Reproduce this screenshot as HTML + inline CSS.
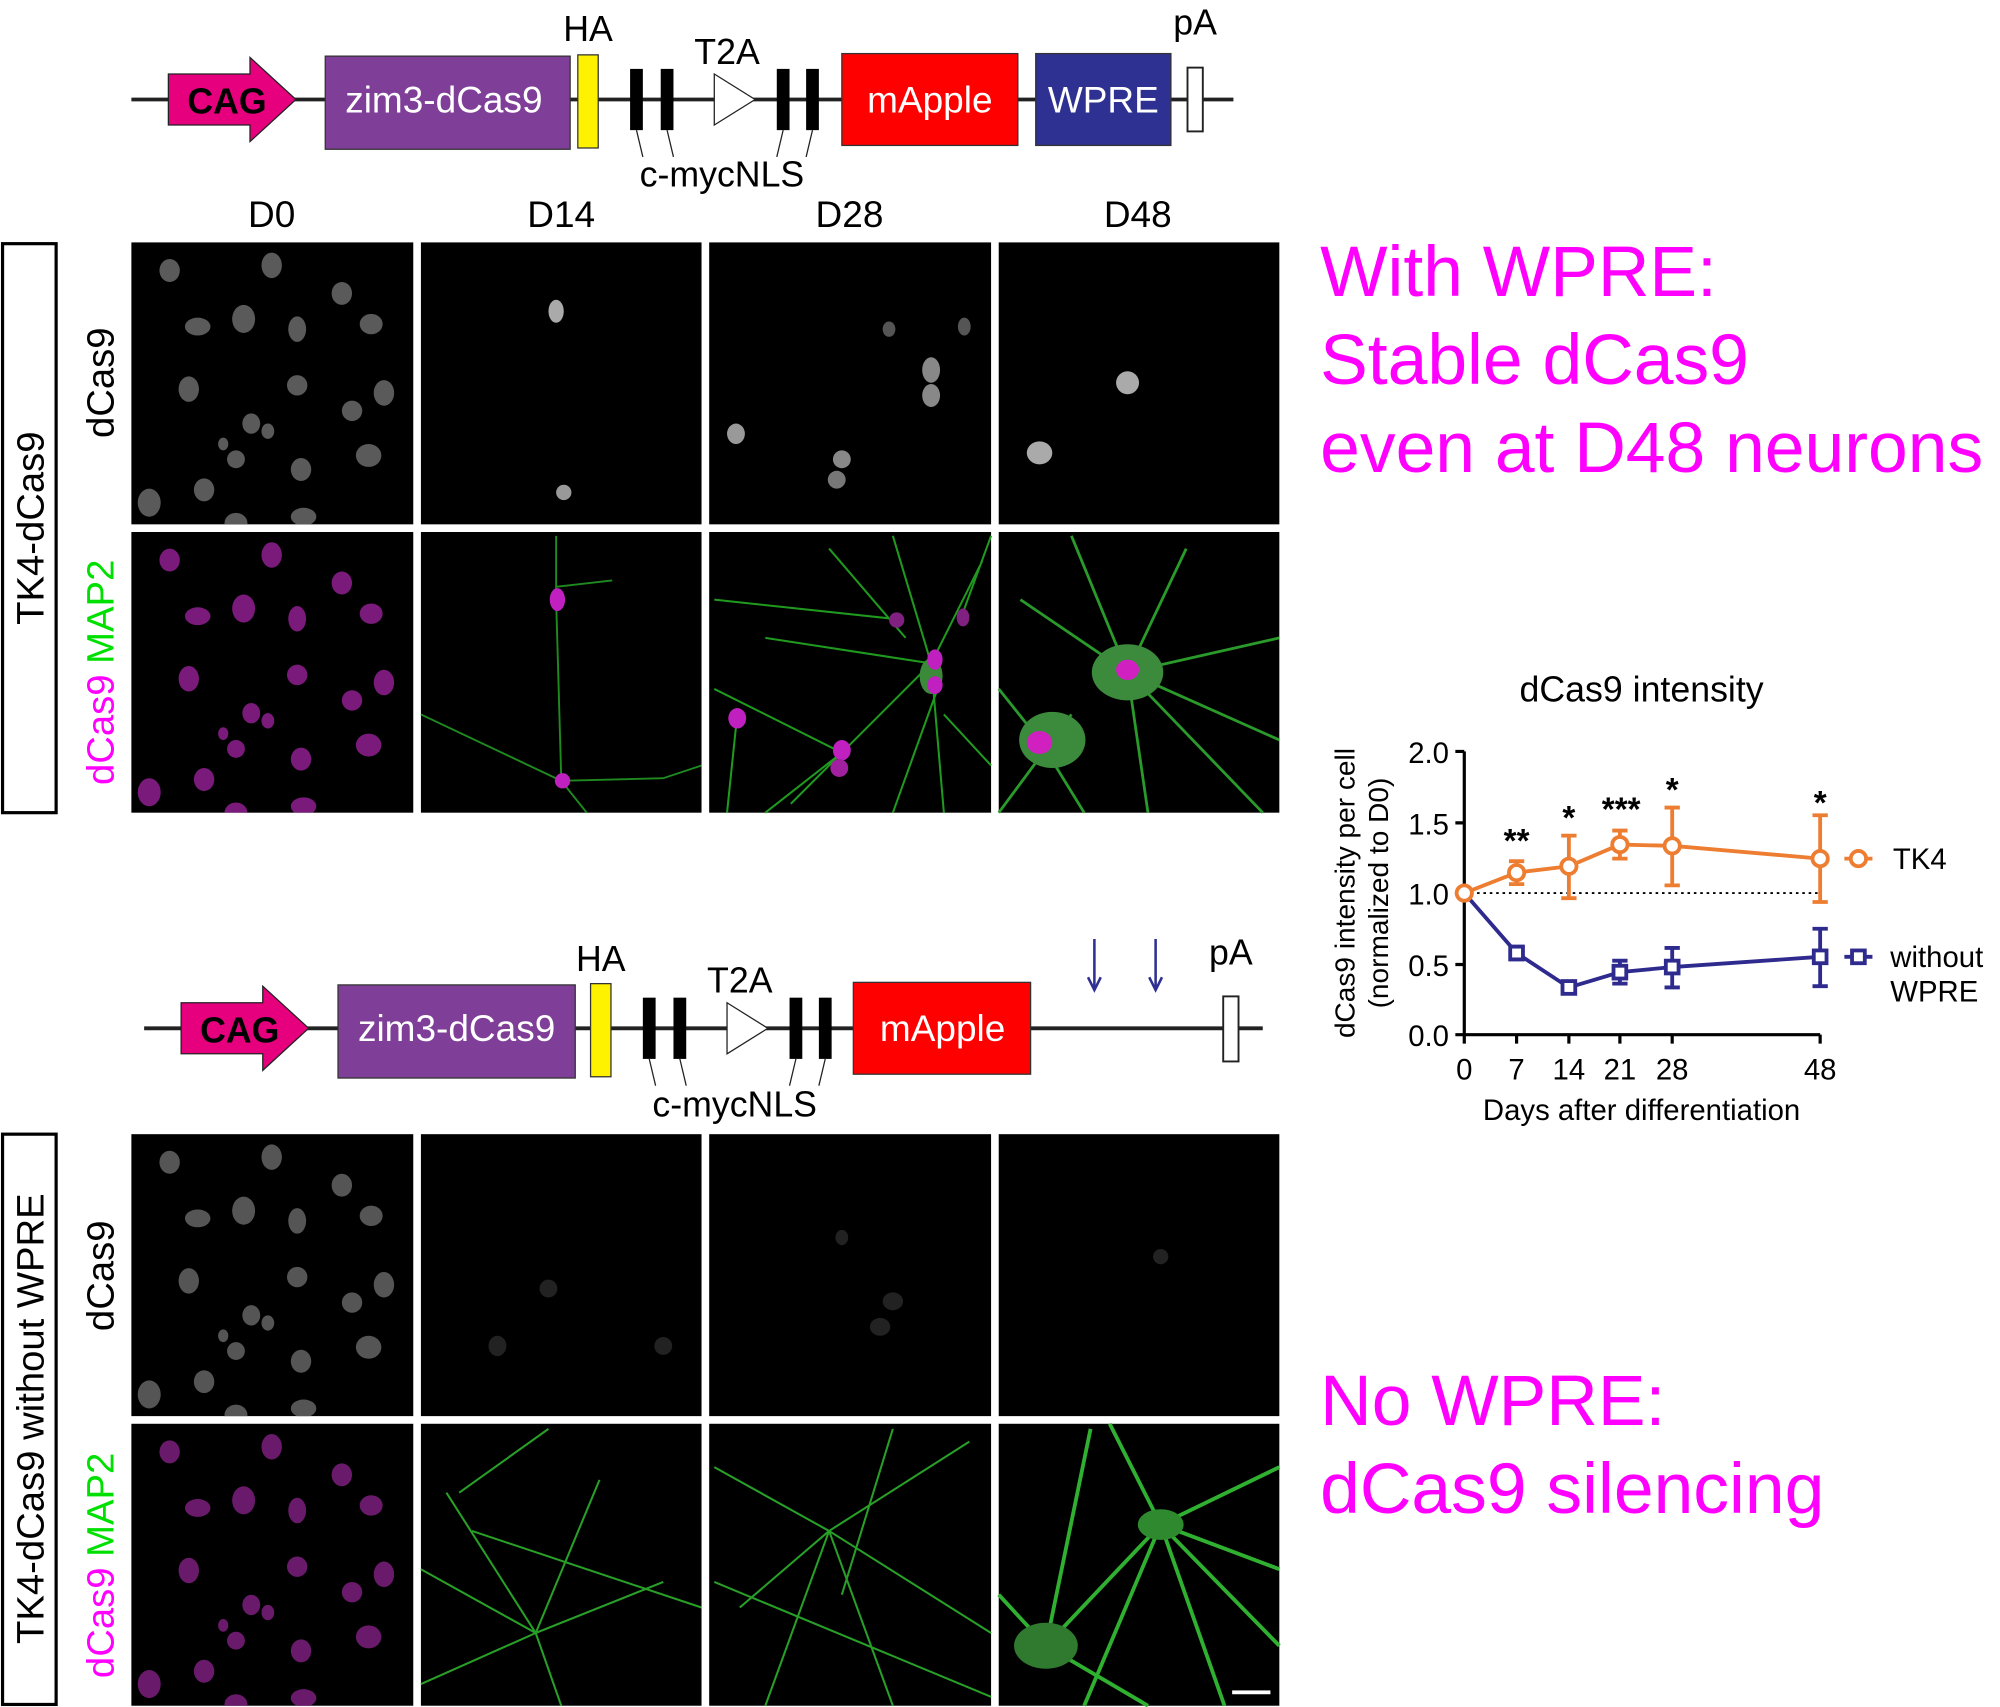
<!DOCTYPE html>
<html><head><meta charset="utf-8"><style>
html,body{margin:0;padding:0;background:#fff}
svg{display:block}
text{font-family:"Liberation Sans",Arial,sans-serif}
</style></head><body>
<svg width="2000" height="1707" viewBox="0 0 1568 1338" preserveAspectRatio="none" xmlns="http://www.w3.org/2000/svg">
<defs>
<g id="nucG">
<ellipse cx="30" cy="22" rx="8" ry="9"/><ellipse cx="110" cy="18" rx="8" ry="10"/><ellipse cx="165" cy="40" rx="8" ry="9"/>
<ellipse cx="52" cy="66" rx="10" ry="7"/><ellipse cx="88" cy="60" rx="9" ry="11"/><ellipse cx="130" cy="68" rx="7" ry="10"/><ellipse cx="188" cy="64" rx="9" ry="8"/>
<ellipse cx="45" cy="115" rx="8" ry="10"/><ellipse cx="130" cy="112" rx="8" ry="8"/><ellipse cx="198" cy="118" rx="8" ry="10"/><ellipse cx="173" cy="132" rx="8" ry="8"/>
<ellipse cx="94" cy="142" rx="7" ry="8"/><ellipse cx="107" cy="148" rx="5" ry="6"/><ellipse cx="82" cy="170" rx="7" ry="7"/><ellipse cx="72" cy="158" rx="4" ry="5"/>
<ellipse cx="186" cy="167" rx="10" ry="9"/><ellipse cx="133" cy="178" rx="8" ry="9"/><ellipse cx="57" cy="194" rx="8" ry="9"/>
<ellipse cx="14" cy="204" rx="9" ry="11"/><ellipse cx="135" cy="215" rx="10" ry="7"/><ellipse cx="82" cy="220" rx="9" ry="8"/>
</g>
<clipPath id="c1"><rect x="103" y="190" width="221" height="221"/></clipPath>
<clipPath id="c2"><rect x="103" y="417" width="221" height="220"/></clipPath>
<clipPath id="c3"><rect x="103" y="889" width="221" height="221"/></clipPath>
<clipPath id="c4"><rect x="103" y="1116" width="221" height="221"/></clipPath>
</defs>
<rect width="1568" height="1338" fill="#fff"/>

<line x1="103" y1="78" x2="967" y2="78" stroke="#222" stroke-width="3"/>
<polygon points="132,58 196,58 196,45 232,78 196,111 196,98 132,98" fill="#e6007e" stroke="#222" stroke-width="1"/>
<text x="178" y="89" font-size="28" font-weight="bold" text-anchor="middle" fill="#000">CAG</text>
<rect x="255" y="44" width="192" height="73" fill="#7f3f98" stroke="#333"/>
<text x="348" y="88" font-size="29" fill="#fff" text-anchor="middle">zim3-dCas9</text>
<rect x="453" y="43" width="16" height="73" fill="#fff200" stroke="#333"/>
<rect x="494" y="54" width="10" height="48" fill="#000"/><rect x="518" y="54" width="10" height="48" fill="#000"/>
<polygon points="560,58 592,78 560,98" fill="#fff" stroke="#222"/>
<rect x="609" y="54" width="10" height="48" fill="#000"/><rect x="632" y="54" width="10" height="48" fill="#000"/>
<rect x="660" y="42" width="138" height="72" fill="#ff0000" stroke="#333"/>
<text x="729" y="88" font-size="29" fill="#fff" text-anchor="middle">mApple</text>
<rect x="812" y="42" width="106" height="72" fill="#2e3192" stroke="#333"/>
<text x="865" y="88" font-size="29" fill="#fff" text-anchor="middle">WPRE</text>
<rect x="931" y="53" width="12" height="50" fill="#fff" stroke="#222" stroke-width="1.5"/>
<text x="461" y="32" font-size="28" text-anchor="middle">HA</text>
<text x="570" y="50" font-size="28" text-anchor="middle">T2A</text>
<text x="937" y="27" font-size="28" text-anchor="middle">pA</text>
<text x="566" y="146" font-size="28" text-anchor="middle">c-mycNLS</text>
<path d="M499,102 L504,123 M523,102 L528,123 M614,102 L609,123 M637,102 L632,123" stroke="#222" stroke-width="1"/>

<text x="213" y="178" font-size="29" text-anchor="middle">D0</text>
<text x="440" y="178" font-size="29" text-anchor="middle">D14</text>
<text x="666" y="178" font-size="29" text-anchor="middle">D28</text>
<text x="892" y="178" font-size="29" text-anchor="middle">D48</text>

<line x1="113" y1="806" x2="990" y2="806" stroke="#222" stroke-width="3"/>
<polygon points="142,786 206,786 206,773 242,806 206,839 206,826 142,826" fill="#e6007e" stroke="#222" stroke-width="1"/>
<text x="188" y="817" font-size="28" font-weight="bold" text-anchor="middle">CAG</text>
<rect x="265" y="772" width="186" height="73" fill="#7f3f98" stroke="#333"/>
<text x="358" y="816" font-size="29" fill="#fff" text-anchor="middle">zim3-dCas9</text>
<rect x="463" y="771" width="16" height="73" fill="#fff200" stroke="#333"/>
<rect x="504" y="782" width="10" height="48" fill="#000"/><rect x="528" y="782" width="10" height="48" fill="#000"/>
<polygon points="570,786 602,806 570,826" fill="#fff" stroke="#222"/>
<rect x="619" y="782" width="10" height="48" fill="#000"/><rect x="642" y="782" width="10" height="48" fill="#000"/>
<rect x="669" y="770" width="139" height="72" fill="#ff0000" stroke="#333"/>
<text x="739" y="816" font-size="29" fill="#fff" text-anchor="middle">mApple</text>
<rect x="959" y="781" width="12" height="51" fill="#fff" stroke="#222" stroke-width="1.5"/>
<text x="471" y="761" font-size="28" text-anchor="middle">HA</text>
<text x="580" y="778" font-size="28" text-anchor="middle">T2A</text>
<text x="965" y="756" font-size="28" text-anchor="middle">pA</text>
<text x="576" y="875" font-size="28" text-anchor="middle">c-mycNLS</text>
<path d="M509,830 L514,851 M533,830 L538,851 M624,830 L619,851 M647,830 L642,851" stroke="#222" stroke-width="1"/>
<path d="M858,736 V774 M906,736 V774" stroke="#2e3192" stroke-width="2"/>
<path d="M853,766 L858,776 L863,766 M901,766 L906,776 L911,766" fill="none" stroke="#2e3192" stroke-width="2"/>

<rect x="2" y="191" width="42" height="446" fill="#fff" stroke="#000" stroke-width="2.5"/>
<text transform="translate(34,414) rotate(-90)" font-size="30" text-anchor="middle">TK4-dCas9</text>
<rect x="2" y="889" width="42" height="447" fill="#fff" stroke="#000" stroke-width="2.5"/>
<text transform="translate(34,1112) rotate(-90)" font-size="30" text-anchor="middle">TK4-dCas9 without WPRE</text>
<text transform="translate(89,300) rotate(-90)" font-size="30" text-anchor="middle">dCas9</text>
<text transform="translate(89,527) rotate(-90)" font-size="30" text-anchor="middle"><tspan fill="#ff00ff">dCas9</tspan> <tspan fill="#00e000">MAP2</tspan></text>
<text transform="translate(89,1000) rotate(-90)" font-size="30" text-anchor="middle">dCas9</text>
<text transform="translate(89,1227) rotate(-90)" font-size="30" text-anchor="middle"><tspan fill="#ff00ff">dCas9</tspan> <tspan fill="#00e000">MAP2</tspan></text>

<g fill="#000">
<rect x="103" y="190" width="221" height="221"/><rect x="330" y="190" width="220" height="221"/><rect x="556" y="190" width="221" height="221"/><rect x="783" y="190" width="220" height="221"/>
<rect x="103" y="417" width="221" height="220"/><rect x="330" y="417" width="220" height="220"/><rect x="556" y="417" width="221" height="220"/><rect x="783" y="417" width="220" height="220"/>
<rect x="103" y="889" width="221" height="221"/><rect x="330" y="889" width="220" height="221"/><rect x="556" y="889" width="221" height="221"/><rect x="783" y="889" width="220" height="221"/>
<rect x="103" y="1116" width="221" height="221"/><rect x="330" y="1116" width="220" height="221"/><rect x="556" y="1116" width="221" height="221"/><rect x="783" y="1116" width="220" height="221"/>
</g>
<g clip-path="url(#c1)"><use href="#nucG" x="103" y="190" fill="#5a5a5a"/></g>
<g clip-path="url(#c2)"><use href="#nucG" x="103" y="417" fill="#7a1a7a"/></g>
<g clip-path="url(#c3)"><use href="#nucG" x="103" y="889" fill="#555"/></g>
<g clip-path="url(#c4)"><use href="#nucG" x="103" y="1116" fill="#6a1a6a"/></g>

<ellipse cx="436" cy="244" rx="6" ry="9" fill="#aaa"/><ellipse cx="442" cy="386" rx="6" ry="6" fill="#999"/>
<g stroke="#1f8a1f" stroke-width="1.5" fill="none">
<path d="M436,420 L436,470 L440,610 M436,460 L480,455 M330,560 L440,612 L520,610 L550,600 M440,612 L460,637"/>
</g>
<ellipse cx="437" cy="470" rx="6" ry="9" fill="#c020c0"/><ellipse cx="441" cy="612" rx="6" ry="6" fill="#c020c0"/>
<ellipse cx="730" cy="290" rx="7" ry="10" fill="#888"/><ellipse cx="730" cy="310" rx="7" ry="9" fill="#888"/><ellipse cx="577" cy="340" rx="7" ry="8" fill="#999"/><ellipse cx="660" cy="360" rx="7" ry="7" fill="#888"/><ellipse cx="656" cy="376" rx="7" ry="7" fill="#777"/><ellipse cx="697" cy="258" rx="5" ry="6" fill="#555"/><ellipse cx="756" cy="256" rx="5" ry="7" fill="#555"/>
<g stroke="#1f9a1f" stroke-width="1.6" fill="none">
<path d="M730,520 L700,420 M730,520 L770,440 M730,520 L740,637 M730,520 L620,630 M730,520 L600,500 M700,485 L560,470 M660,590 L600,637 M660,590 L560,540 M578,560 L570,637 M740,560 L777,600 M710,500 L650,430 M735,540 L700,637 M755,480 L777,420"/>
</g>
<ellipse cx="730" cy="530" rx="9" ry="14" fill="#3a8a3a"/><ellipse cx="733" cy="517" rx="6" ry="8" fill="#c020c0"/><ellipse cx="733" cy="537" rx="6" ry="7" fill="#c020c0"/>
<ellipse cx="578" cy="563" rx="7" ry="8" fill="#c020c0"/><ellipse cx="660" cy="588" rx="7" ry="8" fill="#c020c0"/><ellipse cx="658" cy="602" rx="7" ry="7" fill="#a020a0"/><ellipse cx="703" cy="486" rx="6" ry="6" fill="#802080"/><ellipse cx="755" cy="484" rx="5" ry="7" fill="#802080"/>
<ellipse cx="884" cy="300" rx="9" ry="9" fill="#aaa"/><ellipse cx="815" cy="355" rx="10" ry="9" fill="#aaa"/>
<g stroke="#2a9a2a" stroke-width="2.2" fill="none">
<path d="M884,527 L840,420 M884,527 L930,430 M884,527 L1003,500 M884,527 L990,637 M884,527 L900,637 M884,527 L800,470 M815,580 L783,540 M815,580 L850,637 M884,527 L1003,580 M840,560 L783,637"/>
</g>
<ellipse cx="884" cy="527" rx="28" ry="22" fill="#3c8a3c"/><ellipse cx="825" cy="580" rx="26" ry="22" fill="#3c8a3c"/>
<ellipse cx="884" cy="525" rx="9" ry="8" fill="#d020c0"/><ellipse cx="815" cy="582" rx="10" ry="9" fill="#d020c0"/>
<g fill="#222"><ellipse cx="390" cy="1055" rx="7" ry="8"/><ellipse cx="430" cy="1010" rx="7" ry="7"/><ellipse cx="520" cy="1055" rx="7" ry="7"/><ellipse cx="700" cy="1020" rx="8" ry="7"/><ellipse cx="690" cy="1040" rx="8" ry="7"/><ellipse cx="660" cy="970" rx="5" ry="6"/><ellipse cx="910" cy="985" rx="6" ry="6"/></g>
<g stroke="#28a028" stroke-width="1.6" fill="none">
<path d="M350,1170 L420,1280 L520,1240 M330,1230 L420,1280 L440,1337 M370,1200 L550,1260 M420,1280 L330,1320 M360,1170 L430,1120 M470,1160 L420,1280"/>
<path d="M650,1200 L560,1150 M650,1200 L760,1130 M650,1200 L700,1337 M650,1200 L600,1337 M650,1200 L777,1280 M580,1260 L650,1200 M560,1240 L777,1330 M700,1120 L660,1250"/>
</g>
<g stroke="#30b030" stroke-width="3" fill="none">
<path d="M910,1195 L870,1116 M910,1195 L1003,1150 M910,1195 L850,1337 M910,1195 L960,1337 M910,1195 L1003,1230 M820,1290 L783,1250 M820,1290 L900,1337 M820,1290 L910,1195 M855,1120 L820,1290 M1003,1290 L910,1195"/>
</g>
<ellipse cx="910" cy="1195" rx="18" ry="12" fill="#2f8a2f"/><ellipse cx="820" cy="1290" rx="25" ry="18" fill="#2f7a2f"/>
<rect x="966" y="1325" width="30" height="3" fill="#fff"/>

<g fill="#ff00ff" font-size="56">
<text x="1035" y="232">With WPRE:</text>
<text x="1035" y="301">Stable dCas9</text>
<text x="1035" y="370">even at D48 neurons</text>
<text x="1035" y="1117">No WPRE:</text>
<text x="1035" y="1186">dCas9 silencing</text>
</g>

<text x="1287" y="550" font-size="28" text-anchor="middle">dCas9 intensity</text>
<text transform="translate(1062,700) rotate(-90)" font-size="22" text-anchor="middle">dCas9 intensity per cell</text>
<text transform="translate(1088,700) rotate(-90)" font-size="22" text-anchor="middle">(normalized to D0)</text>
<g stroke="#000" stroke-width="2.5" fill="none">
<path d="M1148,589 V811 H1427"/>
<path d="M1141,589 H1148 M1141,645 H1148 M1141,700 H1148 M1141,756 H1148 M1141,811 H1148"/>
<path d="M1148,811 V818 M1189,811 V818 M1230,811 V818 M1270,811 V818 M1311,811 V818 M1427,811 V818"/>
</g>
<g font-size="23" text-anchor="end">
<text x="1136" y="598">2.0</text><text x="1136" y="654">1.5</text><text x="1136" y="709">1.0</text><text x="1136" y="765">0.5</text><text x="1136" y="820">0.0</text>
</g>
<g font-size="23" text-anchor="middle">
<text x="1148" y="846">0</text><text x="1189" y="846">7</text><text x="1230" y="846">14</text><text x="1270" y="846">21</text><text x="1311" y="846">28</text><text x="1427" y="846">48</text>
</g>
<text x="1287" y="878" font-size="23" text-anchor="middle">Days after differentiation</text>
<line x1="1148" y1="700" x2="1427" y2="700" stroke="#000" stroke-width="1.5" stroke-dasharray="2,3"/>
<g stroke="#ed7d31" stroke-width="3" fill="none">
<polyline points="1148,700 1189,684 1230,679 1270,662 1311,663 1427,673"/>
<path d="M1189,675 V693 M1183,675 H1195 M1183,693 H1195"/>
<path d="M1230,655 V704 M1224,655 H1236 M1224,704 H1236"/>
<path d="M1270,651 V673 M1264,651 H1276 M1264,673 H1276"/>
<path d="M1311,633 V694 M1305,633 H1317 M1305,694 H1317"/>
<path d="M1427,639 V707 M1421,639 H1433 M1421,707 H1433"/>
</g>
<g stroke="#ed7d31" stroke-width="3" fill="#fff">
<circle cx="1189" cy="684" r="6"/><circle cx="1230" cy="679" r="6"/><circle cx="1270" cy="662" r="6"/><circle cx="1311" cy="663" r="6"/><circle cx="1427" cy="673" r="6"/>
</g>
<g stroke="#2e2a8e" stroke-width="3" fill="none">
<polyline points="1148,700 1189,747 1230,774 1270,762 1311,758 1427,750"/>
<path d="M1189,742 V752 M1183,742 H1195 M1183,752 H1195"/>
<path d="M1264,753 H1276 M1264,771 H1276 M1270,753 V771"/>
<path d="M1311,743 V774 M1305,743 H1317 M1305,774 H1317"/>
<path d="M1427,728 V773 M1421,728 H1433 M1421,773 H1433"/>
</g>
<g stroke="#2e2a8e" stroke-width="3" fill="#fff">
<rect x="1184" y="742" width="10" height="10"/><rect x="1225" y="769" width="10" height="10"/><rect x="1265" y="757" width="10" height="10"/><rect x="1306" y="753" width="10" height="10"/><rect x="1422" y="745" width="10" height="10"/>
</g>
<circle cx="1148" cy="700" r="6" stroke="#ed7d31" stroke-width="3" fill="#fff"/>
<g font-size="26" text-anchor="middle" font-weight="bold">
<text x="1189" y="668">**</text><text x="1230" y="650">*</text><text x="1271" y="643">***</text><text x="1311" y="628">*</text><text x="1427" y="638">*</text>
</g>
<path d="M1446,673 H1468" stroke="#ed7d31" stroke-width="3"/><circle cx="1457" cy="673" r="6" stroke="#ed7d31" stroke-width="3" fill="#fff"/>
<text x="1484" y="681" font-size="23">TK4</text>
<path d="M1446,750 H1468" stroke="#2e2a8e" stroke-width="3"/><rect x="1452" y="745" width="10" height="10" stroke="#2e2a8e" stroke-width="3" fill="#fff"/>
<text x="1482" y="758" font-size="23">without</text>
<text x="1482" y="785" font-size="23">WPRE</text>
</svg>
</body></html>
